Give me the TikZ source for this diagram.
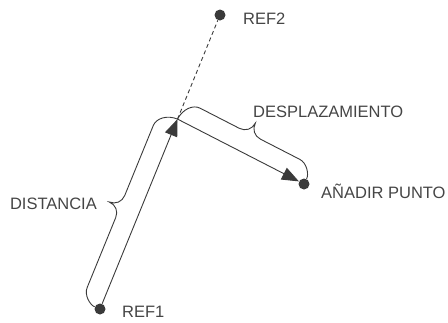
\documentclass[tikz,border=0pt]{standalone}
\usepackage{fontspec}
\setmainfont{Liberation Sans}
\usetikzlibrary{arrows.meta,calc}
\definecolor{ink}{HTML}{3A3A3A}
\definecolor{txt}{HTML}{454545}
% curly bracket on the left side of the segment #1 -> #2
\newcommand{\sidebrace}[2]{%
  \draw[bracket] (#1)
    .. controls ($(#1)!11pt!90:(#2)$) and ($(#1)!7pt!(#2)!20pt!90:(#2)$)
    .. ($(#1)!15pt!(#2)!20pt!90:(#2)$)
    -- ($(#1)!0.5!(#2)!12pt!(#1)!20pt!-90:(#1)$)
    .. controls ($(#1)!0.5!(#2)!5pt!(#1)!20pt!-90:(#1)$) and ($(#1)!0.5!(#2)!25pt!90:(#2)$)
    .. ($(#1)!0.5!(#2)!32pt!90:(#2)$)
    .. controls ($(#1)!0.5!(#2)!25pt!90:(#2)$) and ($(#1)!0.5!(#2)!5pt!(#2)!20pt!90:(#2)$)
    .. ($(#1)!0.5!(#2)!12pt!(#2)!20pt!90:(#2)$)
    -- ($(#2)!15pt!(#1)!20pt!-90:(#1)$)
    .. controls ($(#2)!7pt!(#1)!20pt!-90:(#1)$) and ($(#2)!11pt!-90:(#1)$)
    .. (#2);}

\begin{document}
\begin{tikzpicture}[x=1pt, y=-1pt, font=\fontsize{16.5}{19}\selectfont,
  dot/.style={circle, fill=ink, inner sep=0pt, minimum size=11pt},
  lbl/.style={text=txt, inner sep=0pt},
  link/.style={draw=ink, line width=0.9pt, -{Triangle[length=17pt,width=13pt]}},
  guide/.style={draw=ink, line width=0.9pt, dash pattern=on 4pt off 3pt},
  bracket/.style={draw=ink, line width=0.9pt}]
  \useasboundingbox (0,0) rectangle (448,322);
  % points
  \node[dot] (ref1) at (100,309) {};
  \node[dot] (ref2) at (220,15) {};
  \node[dot] (add) at (304,184) {};
  \coordinate (pto) at ($(ref1)!0.646!(ref2)$);
  % labels
  \node[lbl, anchor=base west] (ref1lbl) at (122,317) {REF1};
  \node[lbl, anchor=base west] (ref2lbl) at (243,24) {REF2};
  \node[lbl, anchor=base west] (addlbl) at (321,198) {AÑADIR PUNTO};
  \node[lbl, anchor=base east] (distlbl) at (97,209) {DISTANCIA};
  \node[lbl, anchor=base west] (displbl) at (253,117) {DESPLAZAMIENTO};
  % connectors
  \draw[guide] (pto) -- (ref2);
  \draw[link] (ref1) -- (pto);
  \draw[link] (pto) -- (add);
  % brackets
  \sidebrace{ref1}{pto}
  \sidebrace{pto}{add}
\end{tikzpicture}
\end{document}
